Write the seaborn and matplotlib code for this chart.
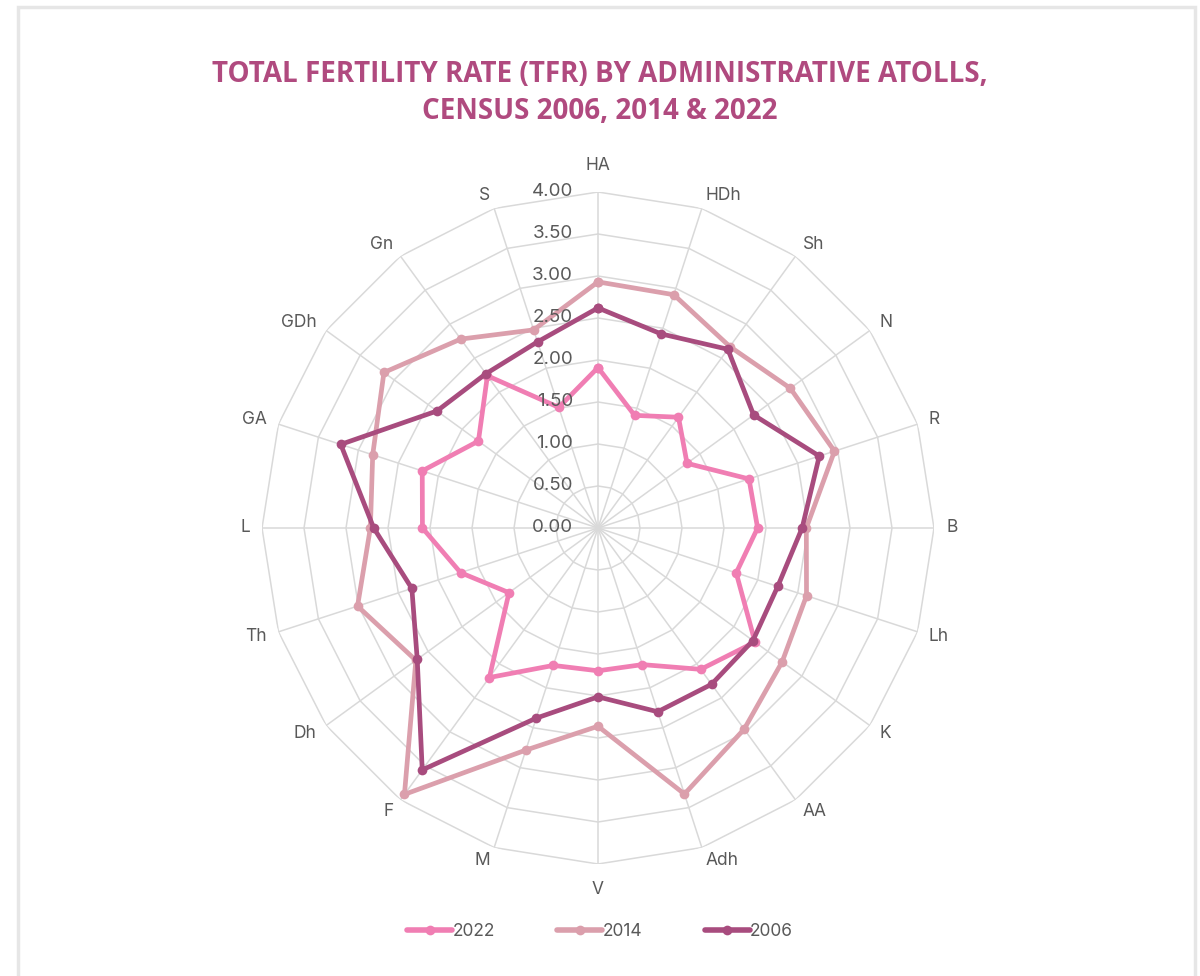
import numpy as np
import pandas as pd
import matplotlib
matplotlib.use("Agg")
import matplotlib.pyplot as plt
import seaborn as sns
from matplotlib.patches import Rectangle

# ── Data ─────────────────────────────────────────────────────
atolls = ["HA", "HDh", "Sh", "N", "R", "B", "Lh", "K", "AA", "Adh",
          "V", "M", "F", "Dh", "Th", "L", "GA", "GDh", "Gn", "S"]
tfr_2022 = [1.91, 1.41, 1.63, 1.31, 1.89, 1.90, 1.73, 2.31, 2.08, 1.71,
            1.70, 1.72, 2.20, 1.31, 1.72, 2.09, 2.20, 1.76, 2.24, 1.51]
tfr_2014 = [2.93, 2.92, 2.67, 2.83, 2.96, 2.48, 2.61, 2.71, 2.96, 3.33,
            2.36, 2.78, 3.92, 2.68, 3.01, 2.71, 2.82, 3.15, 2.78, 2.48]
tfr_2006 = [2.62, 2.43, 2.63, 2.29, 2.77, 2.43, 2.25, 2.28, 2.30, 2.30,
            2.01, 2.38, 3.56, 2.66, 2.33, 2.67, 3.22, 2.37, 2.27, 2.33]
years = ["2022", "2014", "2006"]
ring_values = [0.0, 0.5, 1.0, 1.5, 2.0, 2.5, 3.0, 3.5, 4.0]

colors = {"2022": "#F07EB3", "2014": "#DB9FAC", "2006": "#A84C7E"}
GRID = "#D9D9D9"
TEXT = "#595959"
TITLE = "#B04A7F"
PX = 72 / 100  # points per pixel at dpi 100

# ── Long-form table for seaborn ──────────────────────────────
n = len(atolls)
theta = np.linspace(0, 2 * np.pi, n, endpoint=False)
rows = []
for year, vals in zip(years, [tfr_2022, tfr_2014, tfr_2006]):
    # close the loop by repeating the first atoll at 2*pi
    for i in range(n + 1):
        rows.append({"theta": theta[i] if i < n else 2 * np.pi,
                     "tfr": vals[i % n], "year": year, "step": i})
df = pd.DataFrame(rows)

sns.set_theme(style="white")
plt.rcParams["font.family"] = ["Inter", "DejaVu Sans"]

fig = plt.figure(figsize=(12, 9.76), dpi=100)
# center ~ (598, 528) px, outer ring radius ~336 px
R_px, cx, cy = 336, 598, 976 - 528
ax = fig.add_axes([(cx - R_px) / 1200, (cy - R_px) / 976,
                   2 * R_px / 1200, 2 * R_px / 976], projection="polar")
ax.set_theta_offset(np.pi / 2)
ax.set_theta_direction(-1)
ax.set_ylim(0, 4)
ax.set_facecolor("none")
ax.spines["polar"].set_visible(False)
ax.grid(False)
ax.set_xticks([])
ax.set_yticks([])

# polygon web: spokes + rings
for t in theta:
    ax.plot([t, t], [0, 4], color=GRID, lw=1.1, zorder=1)
ring_theta = np.append(theta, theta[0])
for r in ring_values[1:]:
    ax.plot(ring_theta, [r] * (n + 1), color=GRID, lw=1.1, zorder=1)

sns.lineplot(data=df, x="theta", y="tfr", hue="year", hue_order=years,
             palette=colors, sort=False, units="year", estimator=None,
             marker="o", markersize=7, markeredgewidth=0, linewidth=3.4,
             ax=ax, legend=False, zorder=3)
ax.set_xlabel("")
ax.set_ylabel("")

# radial value labels left of the top spoke
for r in ring_values:
    ax.annotate(f"{r:.2f}", xy=(0, r), xytext=(-25 * PX, 0),
                textcoords="offset points", ha="right", va="center",
                fontsize=13.5, color=TEXT)

# category labels around the outside, anchored like Excel does it
for t, name in zip(theta, atolls):
    s, c = np.sin(t), np.cos(t)
    if abs(s) < 1e-6:
        ha, dx, dy = "center", 0, (27 if c > 0 else -25)
    else:
        ha = "left" if s > 0 else "right"
        dx, dy = 12 * s, 14 * c
    ax.annotate(name, xy=(t, 4), xytext=(dx * PX, dy * PX),
                textcoords="offset points", ha=ha, va="center",
                fontsize=12.5, color=TEXT)

# title
fig.text(0.5, 1 - 93 / 976, "TOTAL FERTILITY RATE (TFR) BY ADMINISTRATIVE ATOLLS,\nCENSUS 2006, 2014 & 2022",
         ha="center", va="center", fontsize=20, fontweight="bold",
         color=TITLE, family=["Open Sans", "DejaVu Sans"], linespacing=1.36)

# legend
handles = [plt.Line2D([], [], color=colors[y], lw=4, marker="o",
                      markersize=7, markeredgewidth=0) for y in years]
fig.legend(handles, years, loc="center", bbox_to_anchor=(0.5, 1 - 932 / 976),
           ncol=3, frameon=False, fontsize=12.5, labelcolor=TEXT,
           handlelength=2.6, handletextpad=0.0, columnspacing=3.6)

# light frame around the chart area
fig.patches.append(Rectangle((17.5 / 1200, -0.02), (1195 - 17.5) / 1200, 1.02 - 7.5 / 976,
                             transform=fig.transFigure, fill=False,
                             edgecolor="#E6E6E6", lw=2.5))

fig.savefig("out.png", dpi=100, facecolor="white")
